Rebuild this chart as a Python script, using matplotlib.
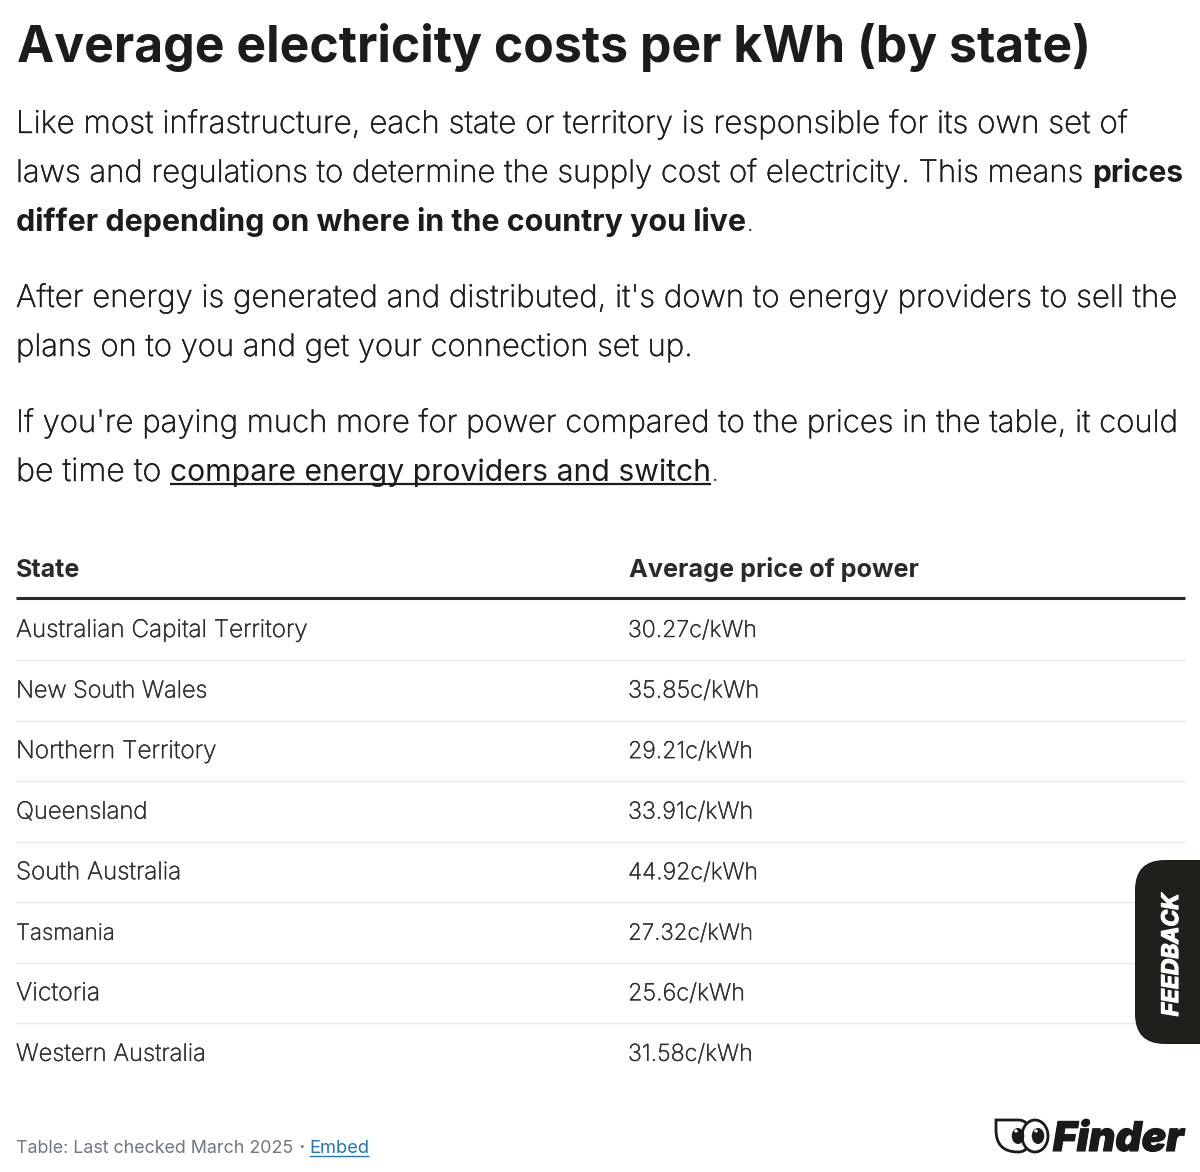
import matplotlib
matplotlib.use("Agg")
import matplotlib.pyplot as plt
import matplotlib.patheffects as pe
from matplotlib.patches import FancyBboxPatch, Ellipse, PathPatch
from matplotlib.path import Path

title = "Average electricity costs per kWh (by state)"
states = ["Australian Capital Territory", "New South Wales", "Northern Territory", "Queensland",
          "South Australia", "Tasmania", "Victoria", "Western Australia"]
prices = ["30.27c/kWh", "35.85c/kWh", "29.21c/kWh", "33.91c/kWh", "44.92c/kWh", "27.32c/kWh", "25.6c/kWh", "31.58c/kWh"]
headers = ["State", "Average price of power"]
state_right = [307, 207, 217, 147, 181, 115, 100, 206]
price_right = [757, 759, 753, 753, 758, 753, 745, 753]

W, H = 1200, 1172
fig = plt.figure(figsize=(W/100, H/100), dpi=100)
ax = fig.add_axes([0, 0, 1, 1])
ax.set_xlim(0, W); ax.set_ylim(H, 0); ax.axis("off")
F = "Inter"
D = "#1c1c1a"
L = "light"
r = fig.canvas.get_renderer()

def fit(x0, x1, y, s, weight=L, color=D, family=F, **k):
    """Baseline-aligned text with size chosen so that it spans x0..x1 px."""
    t = ax.text(x0, y, s, fontsize=20, color=color, family=family, fontweight=weight,
                va="baseline", ha="left", zorder=3, **k)
    for _ in range(3):
        t.set_fontsize(t.get_fontsize() * (x1 - x0) / t.get_window_extent(r).width)
    if weight == L:
        t.set_path_effects([pe.withStroke(linewidth=0.3, foreground=color)])
    return t

def fixed(x, y, s, size, color=D, weight=L):
    return ax.text(x, y, s, fontsize=size, color=color, family=F, fontweight=weight,
                   va="baseline", ha="left", zorder=3)

fit(17, 1091, 62, title, "bold", "#1c1c1a")
fit(16, 1129, 133, "Like most infrastructure, each state or territory is responsible for its own set of")
fit(16, 1083, 182, "laws and regulations to determine the supply cost of electricity. This means")
fit(1092, 1183, 182, "prices", "bold")
fit(16, 746, 231, "differ depending on where in the country you live", "bold")
fixed(746, 231, ".", 22)
fit(16, 1177, 307, "After energy is generated and distributed, it's down to energy providers to sell the")
fit(16, 693, 356, "plans on to you and get your connection set up.")
fit(16, 1177, 432, "If you're paying much more for power compared to the prices in the table, it could")
fit(16, 161, 481, "be time to")
fit(170, 711, 481, "compare energy providers and switch", "normal")
ax.plot([170, 711], [484, 484], color=D, lw=1.6, solid_capstyle="butt")
fixed(711, 481, ".", 22)

fit(16, 80, 577, headers[0], "bold", "#2a2a28")
fit(629, 919, 577, headers[1], "bold", "#2a2a28")
ax.plot([16, 1185], [598, 598], color="#2a2a2a", lw=2.2, solid_capstyle="butt")
row0, dy = 637, 60.55
C = "#2e2e2e"
for i, (a, b) in enumerate(zip(states, prices)):
    y = row0 + i*dy
    fit(16, state_right[i], y, a, color=C)
    fit(628, price_right[i], y, b, color=C)
    if i < len(states)-1:
        ax.plot([16, 1185], [y+23, y+23], color="#e8e8e8", lw=1, zorder=1)

ax.add_patch(FancyBboxPatch((1135, 860), 120, 184, boxstyle="round,pad=0,rounding_size=30",
                            fc="#1f1f1c", ec="none", zorder=2))
t = ax.text(1183, 955, "FEEDBACK", fontsize=16, color="white", family=F, fontweight="bold", style="italic",
            rotation=90, ha="right", va="center", zorder=3)
t.set_fontsize(16 * 123 / t.get_window_extent(r).height)
t.set_path_effects([pe.withStroke(linewidth=0.9, foreground="white")])

G = "#6f7780"
fit(16, 293, 1153, "Table: Last checked March 2025", "normal", G)
fixed(298, 1153, "·", 14, G, "bold")
fit(309, 369, 1153, "Embed", "normal", "#1f78b4")
ax.plot([309, 369], [1156, 1156], color="#1f78b4", lw=1, solid_capstyle="butt")

Y = "#1a1a18"
t = fit(1053, 1184, 1151, "Finder", "black", Y, style="italic")
t.set_path_effects([pe.withStroke(linewidth=0.8, foreground=Y)])

# logo: hooded eye outline, a second eye, and two pupils with highlights
verts = [(996, 1120), (1018, 1120), (1030, 1120), (1030, 1136), (1030, 1152), (1018, 1152),
         (996, 1152), (996, 1130), (996, 1120)]
codes = [Path.MOVETO, Path.LINETO, Path.CURVE3, Path.CURVE3, Path.CURVE3, Path.CURVE3,
         Path.CURVE3, Path.CURVE3, Path.CLOSEPOLY]
ax.add_patch(PathPatch(Path(verts, codes), fc="white", ec=Y, lw=2.0, zorder=2))
ax.add_patch(Ellipse((1035, 1136), 26, 32, fc="white", ec=Y, lw=2.0, zorder=2))
for cx in (1018, 1038):
    ax.add_patch(Ellipse((cx, 1136), 12.5, 16, fc=Y, ec="none", zorder=3))
    ax.add_patch(Ellipse((cx-2, 1131), 3.5, 3, fc="white", ec="none", zorder=4))
fig.savefig("out.png", dpi=100)
